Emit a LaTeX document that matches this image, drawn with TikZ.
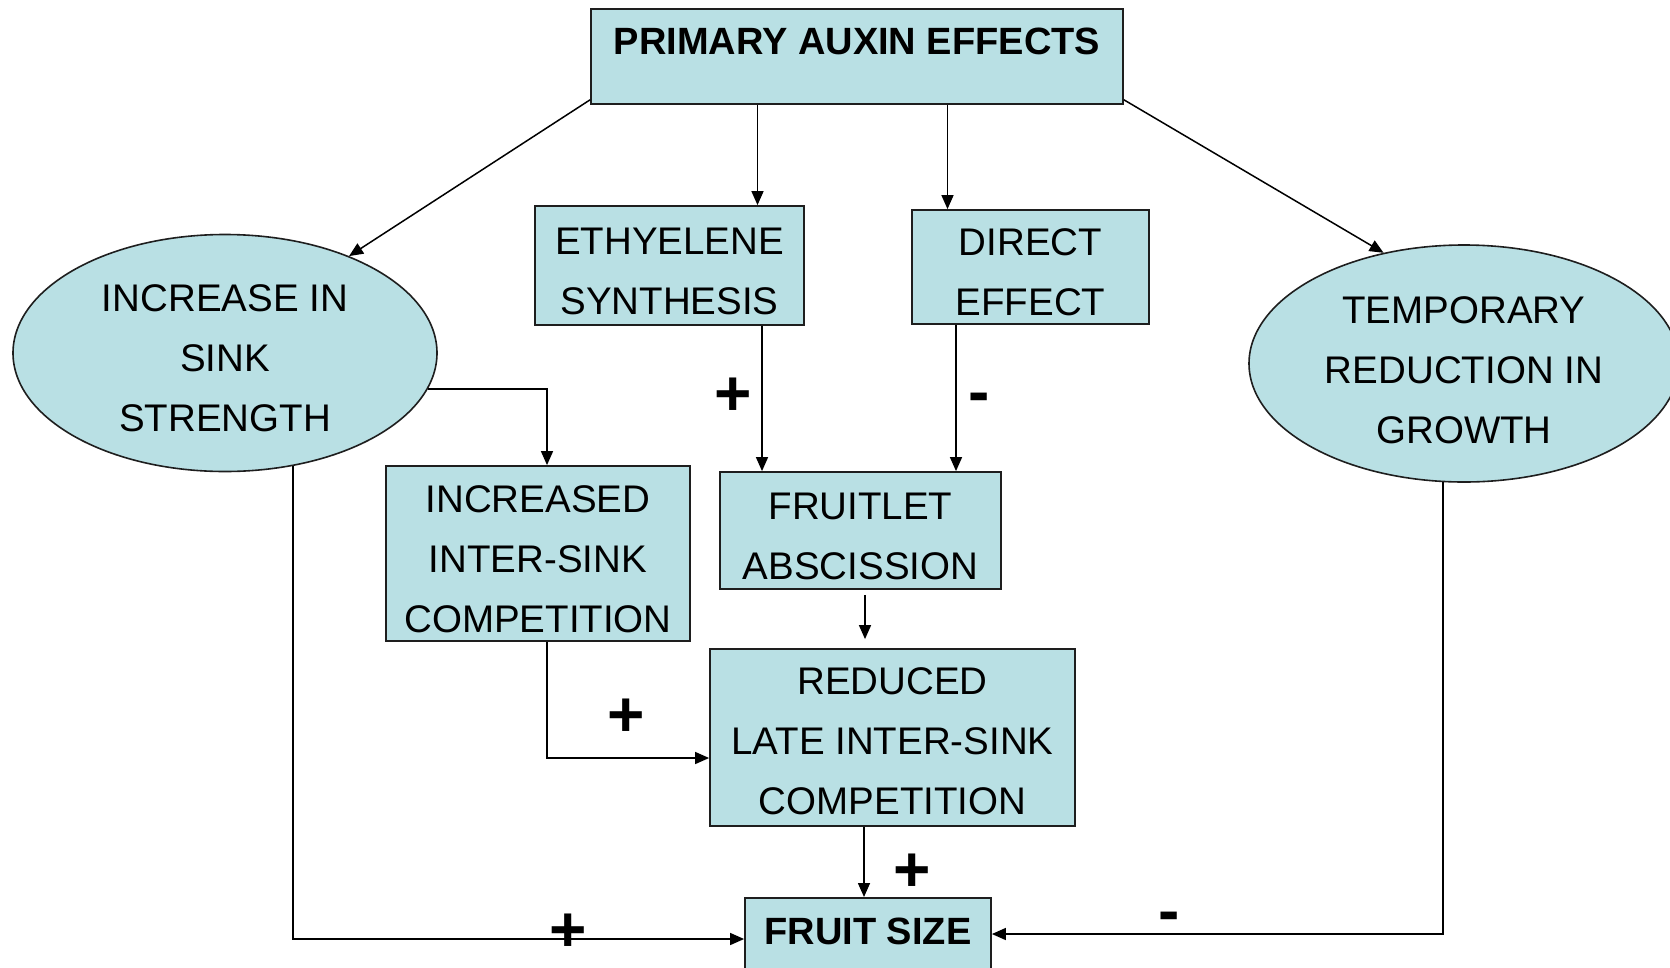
\documentclass[tikz,border=0pt]{standalone}
\usepackage{fontspec}
\setmainfont{Liberation Sans}
\usetikzlibrary{shapes.geometric,arrows.meta,calc}
\definecolor{boxfill}{RGB}{185,224,228}
\definecolor{edge}{RGB}{30,30,30}
\newcommand{\dn}{\rule{0pt}{38pt}}
\tikzset{
  box/.style={draw=edge, line width=1.8pt, fill=boxfill, rectangle, inner sep=0pt, align=center,
    font=\fontsize{38.5}{60}\selectfont},
  oval/.style={draw=edge, line width=1.6pt, fill=boxfill, ellipse, inner sep=0pt, align=center,
    font=\fontsize{38.5}{60}\selectfont},
  arr/.style={draw=black, line width=1.5pt, -{Triangle[length=14pt,width=12pt]}},
  sign/.style={font=\fontsize{64}{64}\bfseries\selectfont, inner sep=0pt},
}
\begin{document}
\begin{tikzpicture}[x=1pt,y=-1pt]
\path[use as bounding box] (0,0) rectangle (1670,967);
\clip (0,0) rectangle (1670,967);
\fill[white] (0,0) rectangle (1670,967);

% nodes
\node[box, minimum width=532pt, text height=45.3pt, text depth=49.7pt,
      font=\fontsize{38}{40}\bfseries\selectfont] (top) at (857,8) [anchor=north] {PRIMARY AUXIN EFFECTS};
\node[box, minimum width=269pt, minimum height=119pt] (eth) at (669.5,265.5) {\dn ETHYELENE\\SYNTHESIS};
\node[box, minimum width=237pt, minimum height=114pt] (dir) at (1030.5,267) {\dn DIRECT\\EFFECT};
\node[oval, minimum width=424pt, minimum height=237pt] (lell) at (225,353) {\dn INCREASE IN\\SINK\\STRENGTH};
\node[oval, minimum width=430pt, minimum height=237pt] (rell) at (1464,363.5) {\rule{0pt}{40pt}TEMPORARY\\REDUCTION IN\\GROWTH};
\node[box, minimum width=304pt, minimum height=175pt] (inc) at (538,553.5) {\dn INCREASED\\INTER-SINK\\COMPETITION};
\node[box, minimum width=281pt, minimum height=117pt] (fru) at (860.5,530.5) {\dn FRUITLET\\ABSCISSION};
\node[box, minimum width=365pt, minimum height=177pt] (red) at (892.5,737.5) {\rule{0pt}{34pt}REDUCED\\LATE INTER-SINK\\COMPETITION};
\node[box, minimum width=246pt, text height=46.5pt, text depth=45pt,
      font=\fontsize{38}{40}\bfseries\selectfont] (fs) at (868,897) [anchor=north] {FRUIT SIZE};

% helper coordinates
\coordinate (xa) at (757.5,0);
\coordinate (xb) at (947.5,0);
\coordinate (xc) at (762,0);
\coordinate (xd) at (956,0);
\coordinate (xe) at (547,0);
\coordinate (xg) at (865,0);
\coordinate (xi) at (864,0);
\coordinate (yA) at (0,939);
\coordinate (yB) at (0,758);
\coordinate (yC) at (0,934);

% connectors
\draw[arr] ([yshift=5pt]top.south west) -- (lell.38);
\draw[arr] ([yshift=5pt]top.south east) -- (rell.126);
\draw[arr] (top.south -| xa) -- (eth.north -| xa);
\draw[arr] (top.south -| xb) -- (dir.north -| xb);
\draw[arr] (eth.south -| xc) -- (fru.north -| xc);
\draw[arr] (dir.south -| xd) -- (fru.north -| xd);
\draw[arr] (lell.-10.7) -| (inc.north -| xe);
\draw[arr] (lell.-59.4) |- (fs.west |- yA);
\draw[arr] (inc.south -| xe) |- (red.west |- yB);
\draw[arr, shorten <=5pt, shorten >=9pt] (fru.south -| xg) -- (red.north -| xg);
\draw[arr] (red.south -| xi) -- (fs.north -| xi);
\draw[arr] (rell.-100.1) |- (fs.east |- yC);

% signs
\node[sign] (s1) at (733,397) {+};
\node[sign] (s2) at (979,403) {-};
\node[sign] (s3) at (626,718) {+};
\node[sign] (s4) at (912,873) {+};
\node[sign] (s5) at (568,933) {+};
\node[sign] (s6) at (1169,922) {-};
\end{tikzpicture}
\end{document}
